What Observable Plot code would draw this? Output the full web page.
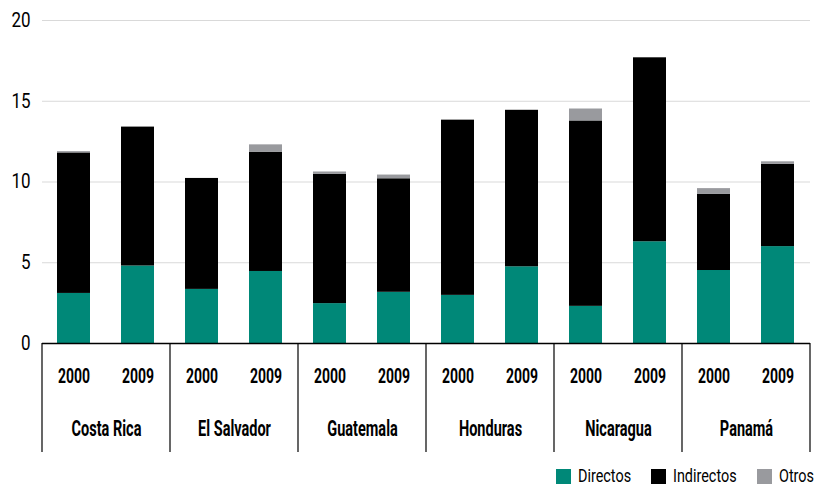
<!DOCTYPE html>
<html>
<head>
<meta charset="utf-8">
<script src="https://cdn.jsdelivr.net/npm/d3@7"></script>
<script src="https://cdn.jsdelivr.net/npm/@observablehq/plot@0.6"></script>
<style>
  body { margin: 0; background: #fff; }
  #chart { width: 814px; font-family: Roboto, "Noto Sans", sans-serif; }
  .legend { display: flex; justify-content: flex-end; align-items: center; margin-top: 9px; height: 18px; font-size: 18px; line-height: 18px; color: #000; }
  .legend .item { display: flex; align-items: center; margin-left: 20px; }
  .legend .sw { width: 15px; height: 15px; margin-right: 7px; }
  .legend .lab { display: inline-block; transform: scaleX(0.8); transform-origin: 0 50%; white-space: nowrap; }
</style>
</head>
<body>
<div id="chart"></div>
<script>
const countries = ["Costa Rica", "El Salvador", "Guatemala", "Honduras", "Nicaragua", "Panamá"];
const years = ["2000", "2009"];
const types = ["Directos", "Indirectos", "Otros"];
const colors = ["#008878", "#000000", "#999a9e"];
// values per country/year, in order CR2000, CR2009, ES2000, ...
const directos   = [3.1, 4.8, 3.35, 4.46, 2.47, 3.17, 2.98, 4.75, 2.3, 6.3, 4.52, 6.0];
const indirectos = [8.7, 8.6, 6.87, 7.37, 8.0, 7.03, 10.85, 9.69, 11.48, 11.39, 4.71, 5.09];
const otros      = [0.08, 0, 0, 0.47, 0.15, 0.23, 0, 0, 0.74, 0, 0.36, 0.16];
const yTicks = [0, 5, 10, 15, 20];

const series = [directos, indirectos, otros];
const rows = [];
types.forEach((t, s) => {
  countries.forEach((c, i) => {
    years.forEach((yr, j) => {
      rows.push({country: c, year: yr, type: t, value: series[s][i * 2 + j]});
    });
  });
});

const FONT = 'Roboto, "Noto Sans", sans-serif';

const plot = Plot.plot({
  width: 814,
  height: 458,
  marginLeft: 42,
  marginRight: 4,
  marginTop: 20,
  marginBottom: 115,
  style: {fontFamily: FONT, background: "#fff", color: "#000"},
  fx: {domain: countries, paddingInner: 0, paddingOuter: 0, label: null},
  x: {domain: years, paddingInner: 0.484, paddingOuter: 0.242, label: null},
  y: {domain: [0, 20], label: null},
  color: {domain: types, range: colors},
  marks: [
    Plot.gridY({ticks: yTicks.slice(1), stroke: "#d9d9d9", strokeOpacity: 1, strokeWidth: 1.2}),
    Plot.axisY({ticks: yTicks, tickSize: 0, tickPadding: 12, fontSize: 20, label: null}),
    Plot.barY(rows, {fx: "country", x: "year", y: "value", fill: "type"}),
    Plot.ruleY([0], {stroke: "#000", strokeWidth: 1.5}),
    Plot.axisX({anchor: "bottom", tickSize: 0, tickPadding: 25, fontSize: 20, fontWeight: "bold", label: null}),
    Plot.axisFx({anchor: "bottom", tickSize: 0, tickPadding: 77, fontSize: 22, fontWeight: "bold", label: null})
  ]
});

// condense text horizontally (reference uses a condensed face)
function condense(selector, s) {
  d3.select(plot).selectAll(selector).each(function () {
    const el = this;
    let tr = el.getAttribute("transform") || "";
    const x = el.getAttribute("x");
    if (x != null && isFinite(+x) && +x !== 0) {
      tr = `translate(${+x},0) ` + tr;
      el.removeAttribute("x");
    }
    el.setAttribute("transform", tr + ` scale(${s},1)`);
  });
}
condense('g[aria-label="y-axis tick label"] text', 0.85);
condense('g[aria-label="x-axis tick label"] text', 0.7);
condense('g[aria-label="fx-axis tick label"] text', 0.66);

// separators between country groups, using Plot's own fx / y scales
const fx = plot.scale("fx");
const ys = plot.scale("y");
const edges = countries.map(c => fx.apply(c));
edges.push(fx.apply(countries[countries.length - 1]) + fx.bandwidth);
const y0 = ys.apply(0);
d3.select(plot).append("g")
  .selectAll("line").data(edges).join("line")
  .attr("x1", d => d).attr("x2", d => d)
  .attr("y1", y0).attr("y2", 452)
  .attr("stroke", "#000").attr("stroke-width", 1.2);

const chart = document.getElementById("chart");
chart.appendChild(plot);

const legend = document.createElement("div");
legend.className = "legend";
chart.appendChild(legend);
types.forEach((t, i) => {
  const item = document.createElement("div");
  item.className = "item";
  const sw = document.createElement("div");
  sw.className = "sw";
  sw.style.background = colors[i];
  const lab = document.createElement("span");
  lab.className = "lab";
  lab.textContent = t;
  item.appendChild(sw);
  item.appendChild(lab);
  legend.appendChild(item);
  const w = lab.offsetWidth;
  lab.style.marginRight = (-(1 - 0.8) * w) + "px";
});
</script>
</body>
</html>
